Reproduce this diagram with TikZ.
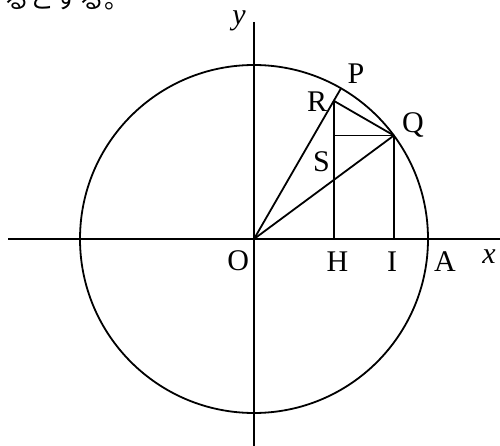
\documentclass[tikz,border=0pt]{standalone}
\usepackage{fontspec}
\setmainfont{Liberation Serif}
\newfontfamily\cjk{Noto Sans CJK JP}
\usetikzlibrary{calc}
\begin{document}
\begin{tikzpicture}[x=1pt,y=-1pt,
  line width=1.8pt,
  lbl/.style={inner sep=0pt,anchor=base,font=\fontsize{30}{36}\selectfont}]
\useasboundingbox (0,0) rectangle (500,446);
\coordinate (O) at (254,239);
\coordinate (xl) at (8,239);
\coordinate (xr) at (500,239);
\coordinate (yt) at (254,22);
\coordinate (yb) at (254,446);
\coordinate (P) at (341,88.3);
\coordinate (Q) at ($(O)+(139.9,-103.5)$);
\coordinate (R) at ($(O)!(Q)!(P)$);
\coordinate (S) at (R |- Q);
\coordinate (H) at (R |- O);
\coordinate (I) at (Q |- O);
\node[inner sep=0pt,anchor=base west,font=\cjk\fontsize{25}{25}\selectfont] (jp) at (4,8.5) {るとする。};
\draw (xl) -- (xr);
\draw (yt) -- (yb);
\draw (O) circle[radius=174];
\draw (O) -- (P);
\draw (O) -- (Q);
\draw (R) -- (Q);
\draw (R) -- (H);
\draw (S) -- (Q);
\draw (Q) -- (I);
\node[lbl] (ly) at (239,24.5) {\textit{y}};
\node[lbl] (lx) at (489,263) {\textit{x}};
\node[lbl] (lP) at (356,83.3) {P};
\node[lbl] (lR) at (317,112) {R};
\node[lbl] (lQ) at (413,133) {Q};
\node[lbl] (lS) at (321.5,172) {S};
\node[lbl] (lO) at (238.3,270) {O};
\node[lbl] (lH) at (337.5,271) {H};
\node[lbl] (lI) at (392,271) {I};
\node[lbl] (lA) at (445,271) {A};
\end{tikzpicture}
\end{document}
